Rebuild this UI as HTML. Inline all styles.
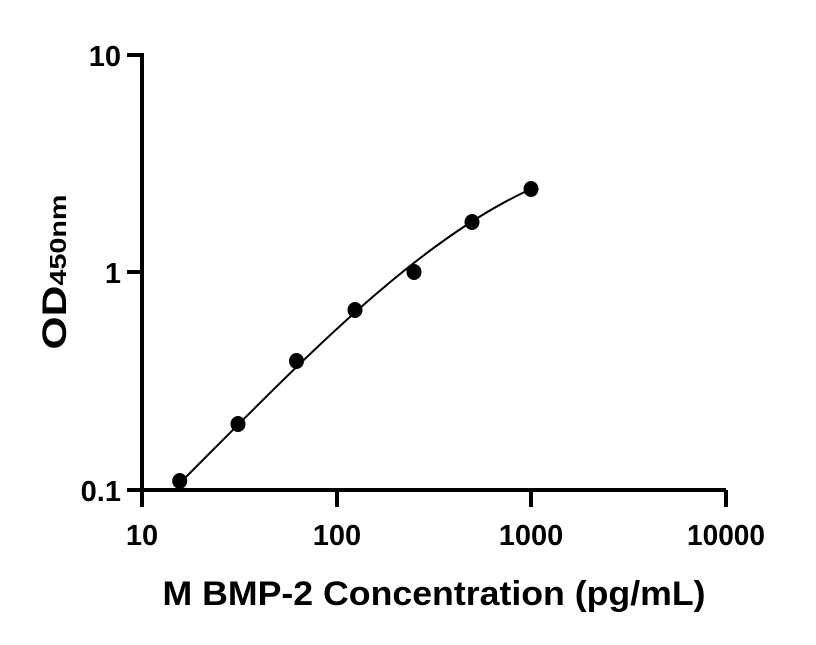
<!DOCTYPE html><html><head><style>body{margin:0;background:#fff}</style></head><body>
<svg width="816" height="640" xmlns="http://www.w3.org/2000/svg" font-family="Liberation Sans, sans-serif" font-weight="bold">
<g stroke="#000" stroke-width="4" fill="none">
<path d="M127 55 H142 V490 H726"/>
<path d="M127 272 H142 M127 490 H142"/>
<path d="M142 490 V507 M337 490 V507 M531 490 V507 M726 490 V507"/>
</g>
<path d="M180 483 C297 366 414 242 531 189" stroke="#000" stroke-width="2" fill="none"/>
<g fill="#000">
<ellipse cx="179.7" cy="481" rx="7.5" ry="8"/>
<ellipse cx="238" cy="424" rx="7.5" ry="8"/>
<ellipse cx="296.5" cy="361" rx="7.5" ry="8"/>
<ellipse cx="355" cy="310" rx="7.5" ry="8"/>
<ellipse cx="414" cy="272" rx="7.5" ry="8"/>
<ellipse cx="472" cy="222" rx="7.5" ry="8"/>
<ellipse cx="531" cy="189" rx="7.5" ry="8"/>
</g>
<g font-size="29" text-anchor="end">
<text x="121" y="66">10</text>
<text x="121" y="283">1</text>
<text x="121" y="501">0.1</text>
</g>
<g font-size="29" text-anchor="middle">
<text x="142" y="545">10</text>
<text x="337" y="545">100</text>
<text x="531" y="545">1000</text>
<text x="726" y="545" textLength="78" lengthAdjust="spacingAndGlyphs">10000</text>
</g>
<text x="434" y="605" font-size="34" text-anchor="middle" textLength="543" lengthAdjust="spacingAndGlyphs">M BMP-2 Concentration (pg/mL)</text>
<text transform="translate(66 272) rotate(-90)" text-anchor="middle" font-size="34" textLength="155" lengthAdjust="spacingAndGlyphs">OD<tspan font-size="23">450nm</tspan></text>
</svg>
</body></html>
